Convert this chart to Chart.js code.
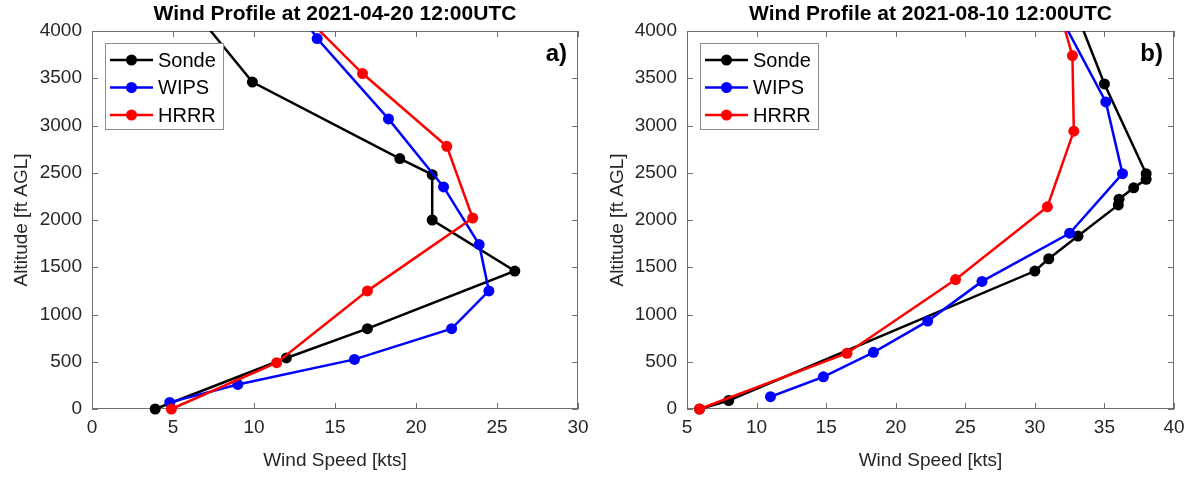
<!DOCTYPE html>
<html>
<head>
<meta charset="utf-8">
<script src="https://cdn.jsdelivr.net/npm/chart.js@4.4.1/dist/chart.umd.min.js"></script>
<style>
  html, body { margin: 0; padding: 0; background: #fff; }
  #wrap { position: relative; width: 1193px; height: 477px; }
  canvas { position: absolute; top: 0; }
</style>
</head>
<body>
<div id="wrap">
  <canvas id="chartA" width="596" height="477" style="left:0"></canvas>
  <canvas id="chartB" width="597" height="477" style="left:596px"></canvas>
</div>
<script>
const FONT = '"Liberation Sans", Arial, Helvetica, sans-serif';
const seriesNames = ['Sonde', 'WIPS', 'HRRR'];
const seriesColors = ['#000000', '#0000ff', '#ff0000'];

// a) 2021-04-20 12:00UTC  (speed in kts, altitude in ft AGL)
const sondeSpdA = [3.9, 12.0, 17.0, 26.1, 21.0, 21.0, 19.0, 9.9, 5.9];
const sondeAltA = [0, 540, 850, 1460, 2000, 2480, 2650, 3460, 4300];
const wipsSpdA = [4.8, 9.0, 16.2, 22.2, 24.5, 23.9, 21.7, 18.3, 13.9, 12.4];
const wipsAltA = [70, 260, 525, 850, 1250, 1740, 2350, 3070, 3920, 4300];
const hrrrSpdA = [4.9, 11.4, 17.0, 23.5, 21.9, 16.7, 12.3];
const hrrrAltA = [0, 490, 1250, 2020, 2780, 3550, 4300];

// b) 2021-08-10 12:00UTC
const sondeSpdB = [5.9, 8.0, 30.0, 31.0, 33.1, 36.0, 36.05, 37.1, 38.0, 38.0, 35.0, 32.7];
const sondeAltB = [0, 90, 1460, 1590, 1830, 2160, 2220, 2340, 2430, 2490, 3440, 4300];
const wipsSpdB = [11.0, 14.8, 18.4, 22.3, 26.2, 32.5, 36.3, 35.1, 31.3];
const wipsAltB = [130, 340, 600, 930, 1350, 1860, 2490, 3250, 4300];
const hrrrSpdB = [5.9, 16.5, 24.3, 30.9, 32.8, 32.7, 31.6];
const hrrrAltB = [0, 590, 1370, 2140, 2940, 3740, 4300];

const xTicksA = [0, 5, 10, 15, 20, 25, 30];
const xTicksB = [5, 10, 15, 20, 25, 30, 35, 40];
const yTicks = [0, 500, 1000, 1500, 2000, 2500, 3000, 3500, 4000];

const toPoints = (spd, alt) => spd.map((v, i) => ({ x: v, y: alt[i] }));

// box round the axes with inward ticks on all four sides
const framePlugin = {
    id: 'frame',
    beforeDatasetsDraw(chart) {
        const { ctx, chartArea: a, scales: { x, y } } = chart;
        const len = 6;
        ctx.save();
        ctx.strokeStyle = '#707070';
        ctx.lineWidth = 1;
        ctx.strokeRect(Math.round(a.left) + 0.5, Math.round(a.top) + 0.5,
            Math.round(a.width) - 1, Math.round(a.height) - 1);
        ctx.beginPath();
        x.ticks.forEach((t) => {
            const px = Math.round(x.getPixelForValue(t.value)) + 0.5;
            ctx.moveTo(px, a.bottom); ctx.lineTo(px, a.bottom - len);
            ctx.moveTo(px, a.top); ctx.lineTo(px, a.top + len);
        });
        y.ticks.forEach((t) => {
            const py = Math.round(y.getPixelForValue(t.value)) + 0.5;
            ctx.moveTo(a.left, py); ctx.lineTo(a.left + len, py);
            ctx.moveTo(a.right, py); ctx.lineTo(a.right - len, py);
        });
        ctx.stroke();
        ctx.restore();
    },
};

// title, panel letter and legend box
const panelPlugin = {
    id: 'panel',
    afterDraw(chart, args, opts) {
        const { ctx, chartArea: a } = chart;
        ctx.save();
        ctx.fillStyle = '#000';
        ctx.textBaseline = 'middle';
        ctx.font = 'bold 21px ' + FONT;
        ctx.textAlign = 'center';
        ctx.fillText(opts.title, (a.left + a.right) / 2, 14);
        ctx.font = 'bold 24px ' + FONT;
        ctx.textAlign = 'right';
        ctx.fillText(opts.label, a.right - 11, a.top + 23);

        const bx = Math.round(a.left) + 13, by = Math.round(a.top) + 12, bw = 118, bh = 86;
        ctx.fillStyle = '#fff';
        ctx.fillRect(bx, by, bw, bh);
        ctx.strokeStyle = '#8c8c8c';
        ctx.lineWidth = 1;
        ctx.strokeRect(bx + 0.5, by + 0.5, bw, bh);
        chart.data.datasets.forEach((ds, i) => {
            const ry = by + 17 + i * 27.5;
            ctx.strokeStyle = ds.borderColor;
            ctx.lineWidth = 2.5;
            ctx.beginPath();
            ctx.moveTo(bx + 5, ry);
            ctx.lineTo(bx + 48, ry);
            ctx.stroke();
            ctx.fillStyle = ds.backgroundColor;
            ctx.beginPath();
            ctx.arc(bx + 26.5, ry, 5.5, 0, 2 * Math.PI);
            ctx.fill();
            ctx.fillStyle = '#000';
            ctx.font = '20px ' + FONT;
            ctx.textAlign = 'left';
            ctx.fillText(ds.label, bx + 53, ry + 1);
        });
        ctx.restore();
    },
};

function makeDatasets(series) {
    return series.map((pts, i) => ({
        label: seriesNames[i],
        data: pts,
        showLine: true,
        borderColor: seriesColors[i],
        backgroundColor: seriesColors[i],
        borderWidth: 2.5,
        pointRadius: 5.5,
        pointBorderWidth: 0,
        pointHoverRadius: 5.5,
        tension: 0,
        order: series.length - i,
        clip: { left: 10, right: 10, top: 0, bottom: 10 },
    }));
}

function makeChart(id, cfg) {
    const tickFont = { family: FONT, size: 19 };
    return new Chart(document.getElementById(id), {
        type: 'scatter',
        data: { datasets: makeDatasets(cfg.series) },
        options: {
            responsive: false,
            animation: false,
            layout: { padding: { top: 31, right: cfg.padRight, left: 0, bottom: 0 } },
            plugins: {
                legend: { display: false },
                tooltip: { enabled: false },
                panel: { title: cfg.title, label: cfg.label },
            },
            scales: {
                x: {
                    type: 'linear',
                    min: cfg.xTicks[0],
                    max: cfg.xTicks[cfg.xTicks.length - 1],
                    afterBuildTicks: (s) => { s.ticks = cfg.xTicks.map((v) => ({ value: v })); },
                    afterFit: (s) => { s.height = 68; },
                    grid: { display: false, drawTicks: false },
                    border: { display: false },
                    ticks: { color: '#262626', font: tickFont, padding: 7, maxRotation: 0,
                        callback: (v) => String(v) },
                    title: {
                        display: true, text: 'Wind Speed [kts]', color: '#262626',
                        font: tickFont, padding: { top: 0, bottom: 5 },
                    },
                },
                y: {
                    type: 'linear',
                    min: 0,
                    max: 4000,
                    afterBuildTicks: (s) => { s.ticks = yTicks.map((v) => ({ value: v })); },
                    afterFit: (s) => { s.width = cfg.axisWidth; },
                    grid: { display: false, drawTicks: false },
                    border: { display: false },
                    ticks: { color: '#262626', font: tickFont, padding: 10,
                        callback: (v) => String(v) },
                    title: {
                        display: true, text: 'Altitude [ft AGL]', color: '#262626',
                        font: tickFont, padding: { top: 10, bottom: 0 },
                    },
                },
            },
        },
        plugins: [framePlugin, panelPlugin],
    });
}

makeChart('chartA', {
    title: 'Wind Profile at 2021-04-20 12:00UTC',
    label: 'a)',
    series: [toPoints(sondeSpdA, sondeAltA), toPoints(wipsSpdA, wipsAltA), toPoints(hrrrSpdA, hrrrAltA)],
    xTicks: xTicksA,
    axisWidth: 92,
    padRight: 18,
});

makeChart('chartB', {
    title: 'Wind Profile at 2021-08-10 12:00UTC',
    label: 'b)',
    series: [toPoints(sondeSpdB, sondeAltB), toPoints(wipsSpdB, wipsAltB), toPoints(hrrrSpdB, hrrrAltB)],
    xTicks: xTicksB,
    axisWidth: 91,
    padRight: 19,
});
</script>
</body>
</html>
